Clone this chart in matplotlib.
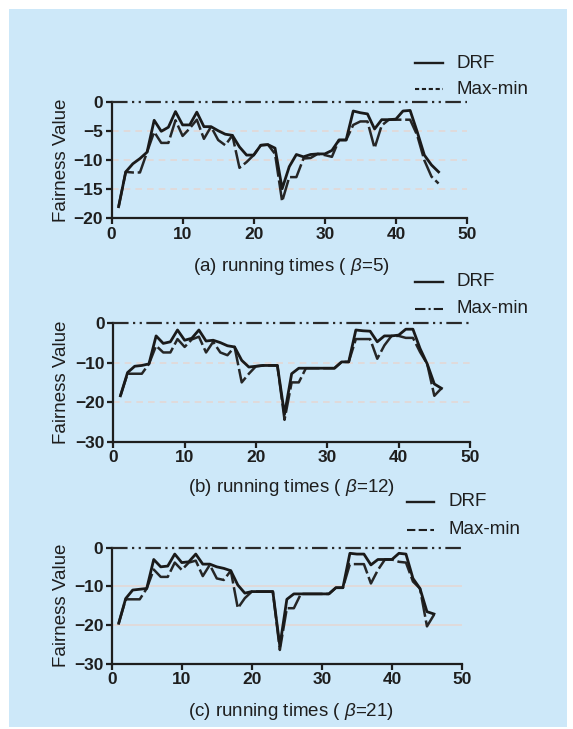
import matplotlib
matplotlib.use("Agg")
import numpy as np
from matplotlib import pyplot as plt
from matplotlib.lines import Line2D
from matplotlib.patches import Rectangle

plt.rcParams['font.family'] = ['Liberation Sans', 'DejaVu Sans']
plt.rcParams['mathtext.fontset'] = 'custom'
plt.rcParams['mathtext.it'] = 'Liberation Sans:italic'
plt.rcParams['mathtext.rm'] = 'Liberation Sans'

# running times 1..46
runs = list(range(1, 47))

# (a) beta=5
drf_a = [-18, -12, -10.6, -9.7, -8.6, -3.1, -5.0, -4.3, -1.6, -3.9,
         -3.9, -1.7, -4.2, -4.2, -4.9, -5.5, -5.7, -7.7, -9.1, -9.1,
         -7.4, -7.3, -7.9, -14.9, -11.1, -9.0, -9.4, -9.0, -8.9, -8.9,
         -8.3, -6.5, -6.5, -1.5, -1.8, -2.0, -4.6, -3.0, -3.0, -2.9,
         -1.5, -1.4, -5.1, -9.1, -10.8, -12.0]
mm_a = [-18, -12, -12.1, -12.1, -8.6, -5.1, -7.0, -7.0, -3.1, -5.8,
        -4.5, -3.0, -6.3, -4.2, -6.5, -7.4, -5.7, -11.3, -10.3, -9.1,
        -7.4, -7.3, -8.9, -17.1, -12.9, -12.9, -9.7, -9.6, -8.9, -9.1,
        -9.4, -6.5, -6.5, -3.9, -3.3, -3.3, -7.9, -4.0, -3.0, -3.0,
        -3.0, -3.0, -5.7, -10.0, -12.8, -14.0]

# (b) beta=12
drf_b = [-18.4, -12.5, -10.9, -10.7, -10.3, -3.2, -5.1, -4.7, -1.7, -4.3,
         -3.8, -1.7, -4.5, -4.3, -4.9, -5.7, -6.0, -9.4, -11.1, -10.9,
         -10.7, -10.7, -10.7, -23.1, -12.8, -11.4, -11.4, -11.4, -11.4, -11.4,
         -11.4, -9.8, -9.8, -1.7, -1.9, -2.0, -4.7, -3.2, -3.2, -3.0,
         -1.5, -1.5, -6.4, -10.3, -15.4, -16.5]
mm_b = [-18.4, -12.8, -12.8, -12.8, -10.3, -5.7, -7.4, -7.4, -4.0, -6.0,
        -4.1, -3.4, -7.4, -4.7, -7.4, -8.1, -6.0, -15.0, -12.8, -10.9,
        -10.7, -10.7, -10.7, -24.5, -15.0, -15.0, -11.4, -11.4, -11.4, -11.4,
        -11.4, -9.8, -9.8, -4.0, -4.0, -4.0, -9.0, -5.6, -3.2, -3.2,
        -3.7, -3.7, -7.3, -10.3, -18.4, -16.5]

# (c) beta=21
drf_c = [-19.6, -13.2, -11.0, -10.8, -10.6, -3.1, -5.0, -4.8, -1.7, -3.9,
         -3.7, -1.7, -4.3, -4.3, -5.0, -5.4, -6.0, -9.7, -11.8, -11.4,
         -11.4, -11.4, -11.4, -25.5, -13.4, -12.0, -12.0, -12.0, -12.0, -12.0,
         -12.0, -10.4, -10.4, -1.5, -1.7, -1.7, -4.5, -3.1, -3.1, -3.1,
         -1.5, -1.7, -8.0, -10.6, -16.6, -17.2]
mm_c = [-19.6, -13.4, -13.4, -13.4, -10.6, -5.7, -7.6, -7.6, -3.9, -5.8,
        -3.9, -3.4, -7.4, -4.5, -8.0, -8.4, -6.0, -15.7, -13.1, -11.4,
        -11.4, -11.4, -11.4, -26.5, -15.7, -15.7, -12.0, -12.0, -12.0, -12.0,
        -12.0, -10.4, -10.4, -4.3, -4.3, -4.3, -9.3, -5.8, -3.1, -3.1,
        -3.7, -3.9, -8.8, -10.6, -20.4, -17.4]

ideal_x = [0, 50]
ideal_y = [0, 0]

W, H = 573, 729
fig = plt.figure(figsize=(W / 100, H / 100), dpi=100)
fig.patch.set_facecolor('white')
fig.add_artist(Rectangle((9 / W, 2 / H), 558 / W, 718 / H, transform=fig.transFigure,
                         facecolor='#cde8f9', edgecolor='none', zorder=-10))

def px(x, y):
    return x / W, 1 - y / H

# title, data, y ticks, axes px box (x0, x50, ytop, ybottom), grid style, xlabel y, legend
panels = [
    ("(a) running times ( $\\it{\\beta}$=5)", drf_a, mm_a, [0, -5, -10, -15, -20],
     (111.5, 467, 102.3, 218.3), (0, (4, 3)), 266,
     (415, 443, 457, 63, 89, (0, (2, 1.3)))),
    ("(b) running times ( $\\it{\\beta}$=12)", drf_b, mm_b, [0, -10, -20, -30],
     (113.3, 470, 323.3, 441.5), (0, (4, 3)), 488,
     (415, 443, 456, 282, 309, (0, (5, 1.5, 1, 1.5)))),
    ("(c) running times ( $\\it{\\beta}$=21)", drf_c, mm_c, [0, -10, -20, -30],
     (111.7, 462, 547.5, 663.5), '-', 711,
     (407, 434, 448, 502, 530, (0, (4, 1.6)))),
]

for title, drf, mm, yt, box, gstyle, ty, leg in panels:
    x0, x1, yt0, yb = box
    l, b = px(x0, yb)
    ax = fig.add_axes([l, b, (x1 - x0) / W, (yb - yt0) / H])
    ax.set_facecolor('none')
    ax.set_xlim(0, 50)
    ax.set_ylim(yt[-1], 0)
    for g in yt[1:-1]:
        ax.plot([0, 50], [g, g], color='#e3d8d6', lw=1.2, linestyle=gstyle, zorder=1)
    ax.plot(ideal_x, ideal_y, color='#2a2a2a', lw=1.6,
            linestyle=(0, (7, 2, 1, 2, 1, 2)), clip_on=False, zorder=3)
    ax.plot(runs, mm, color='#262626', lw=1.8, linestyle=(0, (8, 1.5)), zorder=4)
    ax.plot(runs, drf, color='#1a1a1a', lw=2.0, zorder=5)
    for s in ['top', 'right']:
        ax.spines[s].set_visible(False)
    for s in ['left', 'bottom']:
        ax.spines[s].set_linewidth(1.6)
        ax.spines[s].set_color('#1e1e1e')
    ax.set_xticks([0, 10, 20, 30, 40, 50])
    ax.set_yticks(yt)
    ax.tick_params(direction='out', length=4, width=1.6, color='#1e1e1e', pad=2)
    for t in ax.get_xticklabels() + ax.get_yticklabels():
        t.set_fontweight('bold')
        t.set_fontsize(12.5)
        t.set_color('#1e1e1e')
    fig.text(62 / W, 1 - (yt0 + yb) / 2 / H, 'Fairness Value', rotation=90,
             ha='center', va='center', fontsize=13.5, color='#1e1e1e')
    fig.text(291 / W, 1 - ty / H, title, ha='center', va='center',
             fontsize=13.5, color='#1e1e1e')
    hx0, hx1, tx, y1, y2, mmstyle = leg
    fig.add_artist(Line2D([hx0 / W, hx1 / W], [1 - y1 / H] * 2, transform=fig.transFigure,
                          color='#1e1e1e', lw=1.7))
    fig.add_artist(Line2D([hx0 / W, hx1 / W], [1 - y2 / H] * 2, transform=fig.transFigure,
                          color='#1e1e1e', lw=1.5, linestyle=mmstyle))
    fig.text(tx / W, 1 - y1 / H, 'DRF', ha='left', va='center', fontsize=13.5, color='#1e1e1e')
    fig.text(tx / W, 1 - y2 / H, 'Max-min', ha='left', va='center', fontsize=13.5, color='#1e1e1e')

fig.savefig('out.png', dpi=100, facecolor=fig.get_facecolor())
